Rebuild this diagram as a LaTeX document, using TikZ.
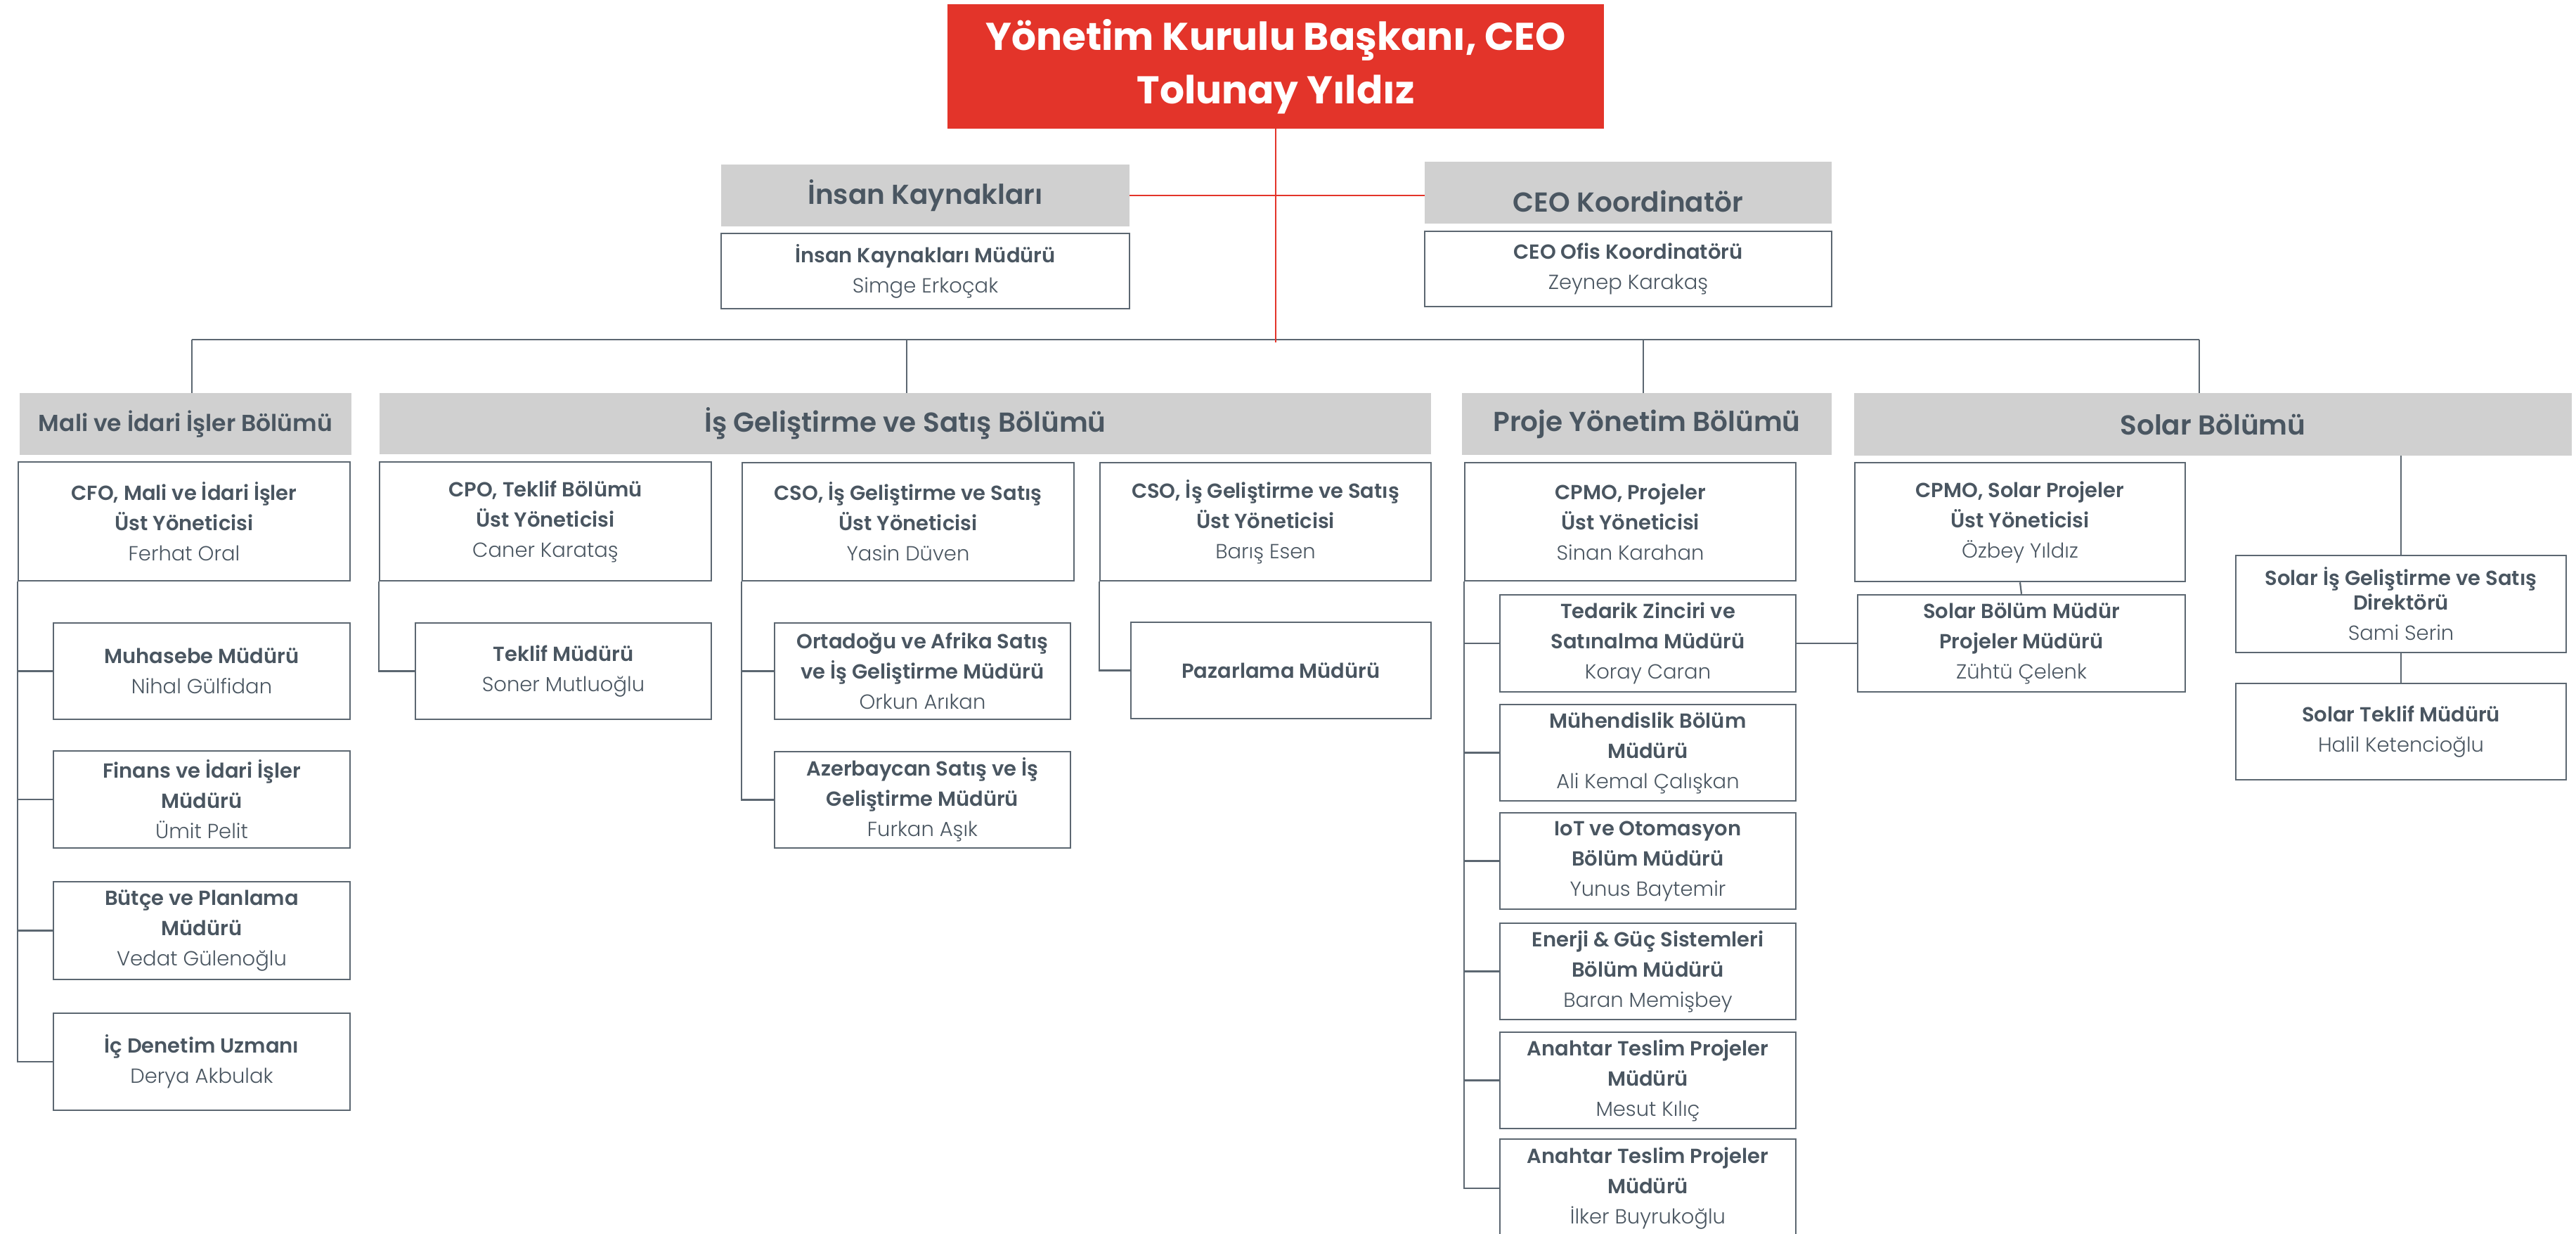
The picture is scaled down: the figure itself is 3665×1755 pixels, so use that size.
\documentclass[tikz,border=0pt]{standalone}
\usepackage{fontspec}
\setmainfont{Poppins}
\newfontfamily\tfont{Poppins SemiBold}
\newfontfamily\nfont{Poppins Light}
\usetikzlibrary{calc}
\definecolor{txt}{RGB}{74,86,97}
\definecolor{bord}{RGB}{92,103,113}
\definecolor{hdrgray}{RGB}{208,208,208}
\definecolor{redc}{RGB}{227,52,42}
\newcommand\nm[1]{{\nfont #1}}
\tikzset{
  orgbox/.style={draw=bord, line width=2.5pt, fill=white, inner sep=0pt, align=center, text=txt,
    font=\tfont\fontsize{29}{43}\selectfont},
  hdrbox/.style={fill=hdrgray, inner sep=0pt, align=center, text=txt,
    font=\tfont\fontsize{39}{48}\selectfont},
  ceobox/.style={fill=redc, inner sep=0pt, align=center, text=white,
    font=\bfseries\fontsize{55}{76}\selectfont},
  conn/.style={draw=bord, line width=2.2pt},
  redln/.style={draw=redc, line width=2.2pt},
}
% #1 style, #2 extra, #3 name, #4 x1, #5 y1, #6 x2, #7 y2, #8 text
\newcommand\placebox[8]{%
  \node[#1,#2,minimum width={(#6-#4)*1pt},minimum height={(#7-#5)*1pt}] (#3)
    at ({(#4+#6)/2},{(#5+#7)/2}) {#8};}
\begin{document}
\begin{tikzpicture}[x=1pt,y=-1pt]
\useasboundingbox[fill=white] (0,0) rectangle (3665,1755);

% top
\placebox{ceobox}{}{ceo}{1348}{6}{2282}{183}{Yönetim Kurulu Başkanı, CEO\\Tolunay Yıldız}
\placebox{hdrbox}{}{hrh}{1026}{234}{1607}{322}{İnsan Kaynakları}
\placebox{orgbox}{}{hrb}{1026}{332}{1607}{439}{İnsan Kaynakları Müdürü\\\nm{Simge Erkoçak}}
\placebox{hdrbox}{}{koh}{2027}{230}{2606}{318}{\raisebox{-12pt}[\height][\depth]{CEO Koordinatör}}
\placebox{orgbox}{}{kob}{2027}{329}{2606}{436}{CEO Ofis Koordinatörü\\\nm{Zeynep Karakaş}}

% department headers
\placebox{hdrbox}{font=\tfont\fontsize{33}{40}\selectfont}{malih}{28}{559}{500}{647}{Mali ve İdari İşler Bölümü}
\placebox{hdrbox}{}{ish}{540}{559}{2036}{646}{İş Geliştirme ve Satış Bölümü}
\placebox{hdrbox}{}{projh}{2080}{559}{2606}{647}{Proje Yönetim Bölümü}
\placebox{hdrbox}{}{solh}{2638}{559}{3659}{648}{Solar Bölümü}

% executives
\placebox{orgbox}{}{cfo}{26}{657}{498}{826}{CFO, Mali ve İdari İşler\\Üst Yöneticisi\\\nm{Ferhat Oral}}
\placebox{orgbox}{}{cpo}{540}{657}{1012}{826}{CPO, Teklif Bölümü\\Üst Yöneticisi\\\nm{Caner Karataş}}
\placebox{orgbox}{}{csoa}{1056}{658}{1528}{826}{CSO, İş Geliştirme ve Satış\\Üst Yöneticisi\\\nm{Yasin Düven}}
\placebox{orgbox}{}{csob}{1565}{658}{2036}{826}{CSO, İş Geliştirme ve Satış\\Üst Yöneticisi\\\nm{Barış Esen}}
\placebox{orgbox}{}{cpmo}{2084}{658}{2555}{826}{CPMO, Projeler\\Üst Yöneticisi\\\nm{Sinan Karahan}}
\placebox{orgbox}{}{cpmos}{2639}{658}{3109}{827}{CPMO, Solar Projeler\\Üst Yöneticisi\\\nm{Özbey Yıldız}}

% Mali column
\placebox{orgbox}{}{muh}{76}{886}{498}{1023}{Muhasebe Müdürü\\\nm{Nihal Gülfidan}}
\placebox{orgbox}{}{fin}{76}{1068}{498}{1206}{Finans ve İdari İşler\\Müdürü\\\nm{Ümit Pelit}}
\placebox{orgbox}{}{but}{76}{1254}{498}{1393}{Bütçe ve Planlama\\Müdürü\\\nm{Vedat Gülenoğlu}}
\placebox{orgbox}{}{icd}{76}{1441}{498}{1579}{İç Denetim Uzmanı\\\nm{Derya Akbulak}}

% Is gelistirme columns
\placebox{orgbox}{}{tek}{591}{886}{1012}{1023}{Teklif Müdürü\\\nm{Soner Mutluoğlu}}
\placebox{orgbox}{}{ort}{1102}{886}{1523}{1023}{Ortadoğu ve Afrika Satış\\ve İş Geliştirme Müdürü\\\nm{Orkun Arıkan}}
\placebox{orgbox}{}{aze}{1102}{1069}{1523}{1206}{Azerbaycan Satış ve İş\\Geliştirme Müdürü\\\nm{Furkan Aşık}}
\placebox{orgbox}{}{paz}{1609}{885}{2036}{1022}{Pazarlama Müdürü}

% Proje column
\placebox{orgbox}{}{ted}{2134}{846}{2555}{984}{Tedarik Zinciri ve\\Satınalma Müdürü\\\nm{Koray Caran}}
\placebox{orgbox}{}{muhn}{2134}{1002}{2555}{1139}{Mühendislik Bölüm\\Müdürü\\\nm{Ali Kemal Çalışkan}}
\placebox{orgbox}{}{iot}{2134}{1156}{2555}{1293}{IoT ve Otomasyon\\Bölüm Müdürü\\\nm{Yunus Baytemir}}
\placebox{orgbox}{}{ene}{2134}{1313}{2555}{1450}{Enerji \& Güç Sistemleri\\Bölüm Müdürü\\\nm{Baran Memişbey}}
\placebox{orgbox}{}{anta}{2134}{1468}{2555}{1605}{Anahtar Teslim Projeler\\Müdürü\\\nm{Mesut Kılıç}}
\placebox{orgbox}{}{antb}{2134}{1620}{2555}{1760}{Anahtar Teslim Projeler\\Müdürü\\\nm{İlker Buyrukoğlu}}

% Solar column
\placebox{orgbox}{}{sbm}{2643}{846}{3109}{984}{Solar Bölüm Müdür\\Projeler Müdürü\\\nm{Zühtü Çelenk}}
\placebox{orgbox}{}{sis}{3181}{790}{3651}{928}{Solar İş Geliştirme ve Satış\\[-8pt]Direktörü\\\nm{Sami Serin}}
\placebox{orgbox}{}{stek}{3181}{972}{3651}{1109}{Solar Teklif Müdürü\\\nm{Halil Ketencioğlu}}

% connectors
\coordinate (tapM) at (273,483);
\coordinate (tapI) at (1290,483);
\coordinate (tapP) at (2338,483);
\coordinate (tapS) at (3129,483);
\draw[conn] (tapM) -- (tapS);
\draw[redln] (ceo.south) -- ([yshift=-4pt]ceo.south |- tapM);
\draw[redln] (hrh.east) -- (hrh.east -| koh.west);
\draw[conn] (tapM) -- (tapM |- malih.north);
\draw[conn] (tapI) -- (tapI |- ish.north);
\draw[conn] (tapP) -- (tapP |- projh.north);
\draw[conn] (tapS) -- (tapS |- solh.north);

\draw[conn] (cfo.south west) |- (icd.west);
\foreach \n in {muh,fin,but} \draw[conn] (cfo.south west |- \n.west) -- (\n.west);
\draw[conn] (cpo.south west) |- (tek.west);
\draw[conn] (csoa.south west) |- (aze.west);
\draw[conn] (csoa.south west |- ort.west) -- (ort.west);
\draw[conn] (csob.south west) |- (paz.west);
\draw[conn] (cpmo.south west) |- (antb.west);
\foreach \n in {ted,muhn,iot,ene,anta} \draw[conn] (cpmo.south west |- \n.west) -- (\n.west);
\draw[conn] (ted.east) -- (sbm.west);
\draw[conn] (cpmos.south) -- (sbm.north);
\draw[conn] (sis.north |- solh.south) -- (sis.north);
\draw[conn] (sis.south) -- (stek.north);
\end{tikzpicture}
\end{document}
